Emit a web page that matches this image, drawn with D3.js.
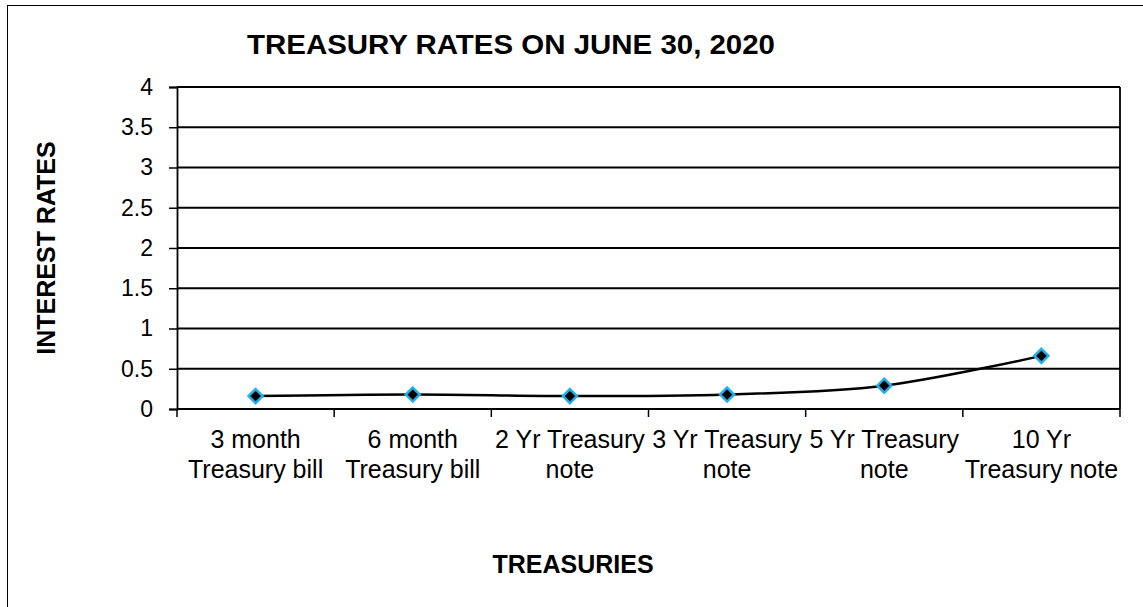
<!DOCTYPE html>
<html>
<head>
<meta charset="utf-8">
<script src="https://cdn.jsdelivr.net/npm/d3@7"></script>
<style>
  body { margin: 0; background: #fff; }
  text { font-family: "Liberation Sans", Arial, sans-serif; fill: #000; }
</style>
</head>
<body>
<script>
// treasury yields, June 30 2020
const categories = ["3 month Treasury bill", "6 month Treasury bill", "2 Yr Treasury note",
                    "3 Yr Treasury note", "5 Yr Treasury note", "10 Yr Treasury note"];
const labelLines = [["3 month", "Treasury bill"], ["6 month", "Treasury bill"], ["2 Yr Treasury", "note"],
                    ["3 Yr Treasury", "note"], ["5 Yr Treasury", "note"], ["10 Yr", "Treasury note"]];
const rates = [0.16, 0.18, 0.16, 0.18, 0.29, 0.66];
const yTicks = [0, 0.5, 1, 1.5, 2, 2.5, 3, 3.5, 4];

const W = 1143, H = 607;
const m = { left: 177, right: 1120, top: 87, bottom: 409 };

const svg = d3.select("body").append("svg").attr("width", W).attr("height", H);

// outer chart frame
svg.append("rect").attr("x", 7.5).attr("y", 5.5).attr("width", 1200).attr("height", 700)
  .attr("fill", "none").attr("stroke", "#000").attr("stroke-width", 1);

const x = d3.scaleBand().domain(categories).range([m.left, m.right]);
const y = d3.scaleLinear().domain([0, 4]).range([m.bottom, m.top]);

// gridlines
svg.append("g").selectAll("line").data(yTicks.slice(1)).join("line")
  .attr("x1", m.left).attr("x2", m.right)
  .attr("y1", d => y(d)).attr("y2", d => y(d))
  .attr("stroke", "#000").attr("stroke-width", 1.8);

// right border
svg.append("line").attr("x1", m.right).attr("x2", m.right).attr("y1", m.top).attr("y2", m.bottom)
  .attr("stroke", "#000").attr("stroke-width", 1.8);

// y axis
const yAxis = svg.append("g").attr("transform", `translate(${m.left},0)`)
  .call(d3.axisLeft(y).tickValues(yTicks).tickSize(8).tickPadding(16).tickFormat(d3.format("")));
yAxis.select(".domain").attr("stroke-width", 1.8);
yAxis.selectAll(".tick line").attr("stroke-width", 1.5);
yAxis.selectAll(".tick text").style("font-size", "23px").attr("font-family", null);

// x axis: ticks between categories
const xAxis = svg.append("g").attr("transform", `translate(0,${m.bottom})`);
xAxis.append("line").attr("x1", m.left).attr("x2", m.right).attr("stroke", "#000").attr("stroke-width", 1.8);
const bounds = categories.map(c => x(c)).concat([m.right]);
xAxis.selectAll(".tk").data(bounds).join("line").attr("class", "tk")
  .attr("x1", d => d).attr("x2", d => d).attr("y1", 0).attr("y2", 8)
  .attr("stroke", "#000").attr("stroke-width", 1.5);
const xl = xAxis.selectAll(".lbl").data(categories).join("text").attr("class", "lbl")
  .attr("x", d => x(d) + x.bandwidth() / 2).attr("text-anchor", "middle").style("font-size", "25px");
xl.selectAll("tspan").data((d, i) => labelLines[i]).join("tspan")
  .attr("x", function () { return this.parentNode.getAttribute("x"); })
  .attr("y", (d, i) => 39 + i * 30).text(d => d);

// line
const line = d3.line().x((d, i) => x(categories[i]) + x.bandwidth() / 2).y(d => y(d))
  .curve(d3.curveCatmullRom.alpha(0.5));
svg.append("path").datum(rates).attr("d", line)
  .attr("fill", "none").attr("stroke", "#000").attr("stroke-width", 2.5);

// diamond markers
const r = 7;
svg.append("g").selectAll("path").data(rates).join("path")
  .attr("transform", (d, i) => `translate(${x(categories[i]) + x.bandwidth() / 2},${y(d)})`)
  .attr("d", `M0,${-r}L${r},0L0,${r}L${-r},0Z`)
  .attr("fill", "#000").attr("stroke", "#22b0ea").attr("stroke-width", 2.5);

// titles
svg.append("text").attr("x", 511).attr("y", 54).attr("text-anchor", "middle")
  .attr("textLength", 528).attr("lengthAdjust", "spacingAndGlyphs")
  .style("font-size", "27px").style("font-weight", "bold").text("TREASURY RATES ON JUNE 30, 2020");
svg.append("text").attr("x", 573).attr("y", 573).attr("text-anchor", "middle")
  .style("font-size", "25px").style("font-weight", "bold").text("TREASURIES");
svg.append("text").attr("transform", "translate(55,248) rotate(-90)").attr("text-anchor", "middle")
  .style("font-size", "25px").style("font-weight", "bold").text("INTEREST RATES");
</script>
</body>
</html>
